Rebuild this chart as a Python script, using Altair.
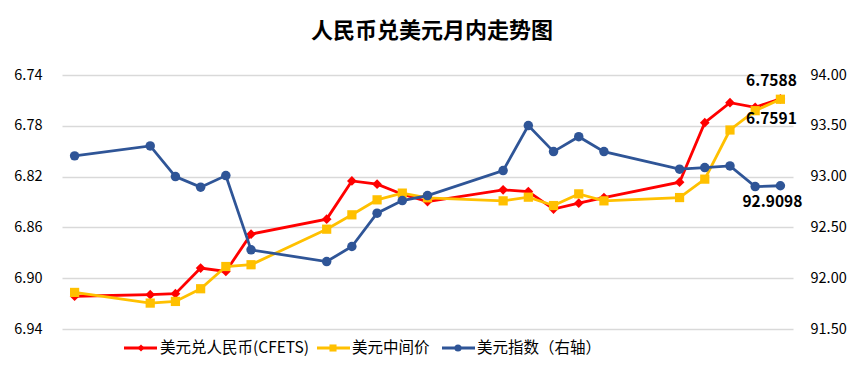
import altair as alt
import pandas as pd

# ---- data ----
days = [0, 3, 4, 5, 6, 7, 10, 11, 12, 13, 14, 17, 18, 19, 20, 21, 24, 25, 26, 27, 28]
cfets = [6.9142, 6.9130, 6.9122, 6.8920, 6.8947, 6.8653, 6.8535, 6.8234, 6.8260, 6.8339,
         6.8397, 6.8304, 6.8318, 6.8456, 6.8409, 6.8365, 6.8244, 6.7775, 6.7618, 6.7654, 6.7588]
central = [6.9112, 6.9196, 6.9183, 6.9083, 6.8908, 6.8894, 6.8614, 6.8501, 6.8383, 6.8330,
           6.8367, 6.8391, 6.8362, 6.8428, 6.8336, 6.8391, 6.8365, 6.8220, 6.7833, 6.7681, 6.7591]
dxy = [93.204, 93.302, 93.000, 92.896, 93.010, 92.279, 92.164, 92.312, 92.640, 92.764,
       92.813, 93.059, 93.502, 93.246, 93.393, 93.246, 93.073, 93.089, 93.105, 92.902, 92.9098]
series_names = ["美元兑人民币(CFETS)", "美元中间价", "美元指数（右轴）"]
left_ticks = [6.74, 6.78, 6.82, 6.86, 6.90, 6.94]
right_ticks = [91.5, 92.0, 92.5, 93.0, 93.5, 94.0]

RED, YEL, BLU = "#FF0000", "#FFC000", "#2F5597"
FONT = "Noto Sans CJK SC"

df_red = pd.DataFrame({"day": days, "v": cfets})
df_yel = pd.DataFrame({"day": days, "v": central})
df_blu = pd.DataFrame({"day": days, "v": dxy})

xenc = alt.X("day:Q", scale=alt.Scale(domain=[-0.5, 28.5], nice=False), axis=None)

yl_scale = alt.Scale(domain=[6.74, 6.94], reverse=True, nice=False, zero=False)
yr_scale = alt.Scale(domain=[91.5, 94.0], nice=False, zero=False)

left_axis = alt.Axis(values=left_ticks, format=".2f", domain=False, ticks=False,
                     labelPadding=20, grid=True, gridColor="#D9D9D9", gridWidth=1.3,
                     labelFontSize=14.5, labelFont=FONT, labelColor="#000000", title=None)
right_axis = alt.Axis(values=right_ticks, format=".2f", domain=False, ticks=False,
                      labelPadding=17, grid=False, orient="right",
                      labelFontSize=14.5, labelFont=FONT, labelColor="#000000", title=None)

yl = alt.Y("v:Q", scale=yl_scale, axis=left_axis)
yr = alt.Y("v:Q", scale=yr_scale, axis=right_axis)

red_line = alt.Chart(df_red).mark_line(color=RED, strokeWidth=2.8).encode(x=xenc, y=yl)
red_pts = alt.Chart(df_red).mark_point(shape="diamond", filled=True, color=RED, size=95, opacity=1).encode(x=xenc, y=yl)
yel_line = alt.Chart(df_yel).mark_line(color=YEL, strokeWidth=2.8).encode(x=xenc, y=yl)
yel_pts = alt.Chart(df_yel).mark_point(shape="square", filled=True, color=YEL, size=85, opacity=1).encode(x=xenc, y=yl)

red_lab = alt.Chart(df_red).transform_filter(alt.datum.day == 28).mark_text(
    font=FONT, fontSize=15.5, fontWeight="bold", color="#000000", dx=-9, dy=-18, align="center"
).encode(x=xenc, y=yl, text=alt.Text("v:Q", format=".4f"))
yel_lab = alt.Chart(df_yel).transform_filter(alt.datum.day == 28).mark_text(
    font=FONT, fontSize=15.5, fontWeight="bold", color="#000000", dx=-9, dy=20, align="center"
).encode(x=xenc, y=yl, text=alt.Text("v:Q", format=".4f"))

left = alt.layer(red_line, red_pts, yel_line, yel_pts, red_lab, yel_lab)

blu_line = alt.Chart(df_blu).mark_line(color=BLU, strokeWidth=2.8).encode(x=xenc, y=yr)
blu_pts = alt.Chart(df_blu).mark_point(shape="circle", filled=True, color=BLU, size=90, opacity=1).encode(x=xenc, y=yr)
blu_lab = alt.Chart(df_blu).transform_filter(alt.datum.day == 28).mark_text(
    font=FONT, fontSize=15.5, fontWeight="bold", color="#000000", dx=-8, dy=16, align="center"
).encode(x=xenc, y=yr, text=alt.Text("v:Q", format=".4f"))

right = alt.layer(blu_line, blu_pts, blu_lab)

# ---- manual legend (line + marker + text) ----
one = pd.DataFrame({"k": [0]})
legend_layers = []
leg_specs = [
    (series_names[0], RED, "diamond", 62, 95, 79, 98),
    (series_names[1], YEL, "square", 255, 288, 271, 290),
    (series_names[2], BLU, "circle", 380, 413, 396, 415),
]
LY = 273
for name, col, shp, x1, x2, xm, xt in leg_specs:
    legend_layers.append(alt.Chart(one).mark_rule(color=col, strokeWidth=2.8).encode(
        x=alt.value(x1), x2=alt.value(x2), y=alt.value(LY)))
    legend_layers.append(alt.Chart(one).mark_point(shape=shp, filled=True, color=col, size=50, opacity=1).encode(
        x=alt.value(xm), y=alt.value(LY)))
    legend_layers.append(alt.Chart(one).mark_text(text=name, font=FONT, fontSize=15.5, color="#000000",
                                                  align="left", baseline="middle").encode(
        x=alt.value(xt), y=alt.value(LY)))

chart = alt.layer(left, right, *legend_layers).resolve_scale(y="independent").properties(
    width=731, height=254,
    autosize=alt.AutoSizeParams(type="none"),
    padding={"left": 54, "top": 67, "right": 63, "bottom": 33},
    title=alt.TitleParams("人民币兑美元月内走势图", font=FONT, fontSize=22, fontWeight="bold",
                          color="#000000", anchor="middle", frame="group", offset=24, dx=4.5),
    background="#FFFFFF",
).configure_view(stroke=None)

chart.save("out.html", embed_options={"renderer": "svg", "actions": False})
